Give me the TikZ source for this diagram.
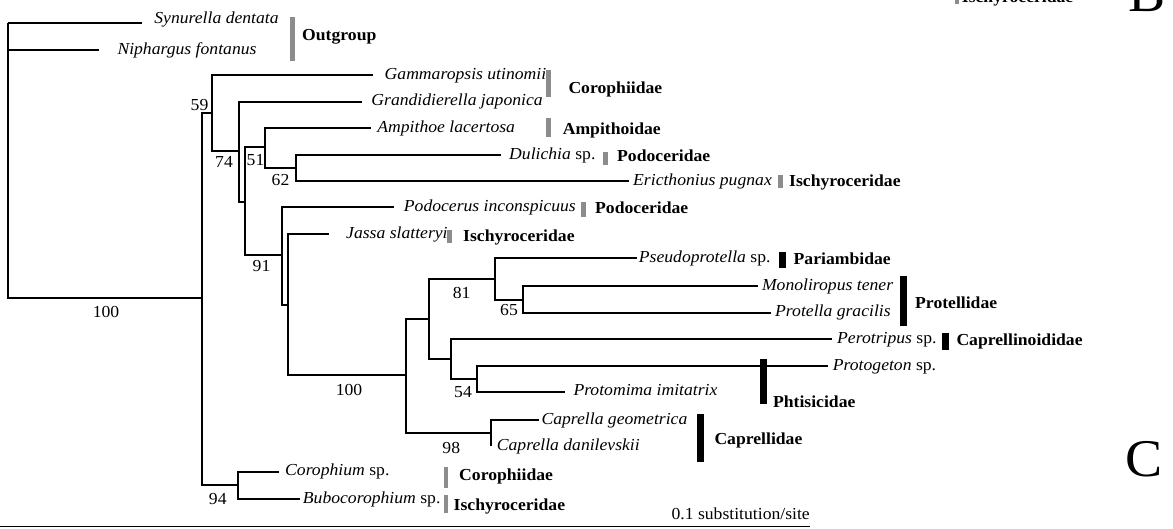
\documentclass[tikz,border=0pt]{standalone}
\usepackage{fontspec}
\setmainfont{Liberation Serif}[FakeStretch=1.05]
\usetikzlibrary{positioning}

\newcommand{\labelsize}{\fontsize{16.8}{19}\selectfont}

\tikzstyle{branch} = [
    line width = 2pt,
    line join = miter
]
\tikzstyle{taxon} = [
    anchor = west,
    inner ysep = 0pt,
    inner xsep = 4pt,
    font = \labelsize\itshape,
    text height = 12pt,
    text depth = 3.7pt
]
\tikzstyle{family} = [
    anchor = west,
    inner sep = 0pt,
    font = \labelsize\bfseries,
    text height = 12pt,
    text depth = 3.7pt
]
\tikzstyle{support} = [
    inner sep = 0pt,
    font = \labelsize
]
\tikzstyle{greybar} = [line width = 4.5pt, draw = black!45]
\tikzstyle{blackbar} = [line width = 7pt, draw = black]
\tikzstyle{panel} = [
    anchor = base west,
    inner sep = 0pt,
    font = \fontsize{53}{53}\selectfont
]

\begin{document}
\begin{tikzpicture}[x = 1pt, y = -1pt]
                \useasboundingbox (0,0) rectangle (1173,529);
                \clip (0,0) rectangle (1173,529);

                % inner nodes of the tree
                \coordinate (root) at (8.4,23.3);
                \coordinate (n100r) at (201.7,298.3);
                \coordinate (n59) at (212.3,113.3);
                \coordinate (n74) at (239,150.7);
                \coordinate (nA) at (245,201.7);
                \coordinate (n51) at (265,147.3);
                \coordinate (n62) at (295.7,168.3);
                \coordinate (n91) at (282,255);
                \coordinate (nB) at (288,305);
                \coordinate (n100c) at (406,375);
                \coordinate (nC) at (429.3,319.3);
                \coordinate (n81) at (495,279.3);
                \coordinate (n65) at (522.7,300);
                \coordinate (nD) at (450.7,359.3);
                \coordinate (n54) at (477.3,379.3);
                \coordinate (n98) at (491,432.7);
                \coordinate (n94) at (238.3,485);

                % taxa
                \node[taxon, inner xsep = 12.5pt, text depth = 12pt] (syn) at (141.7,23.3) {Synurella dentata};
                \node[taxon, inner xsep = 18pt] (nip) at (99.3,50) {Niphargus fontanus};
                \node[taxon, inner xsep = 11.5pt] (gam) at (373,75) {Gammaropsis utinomii};
                \node[taxon, inner xsep = 9.5pt] (gra) at (361.7,101.7) {Grandidierella japonica};
                \node[taxon, inner xsep = 6pt] (amp) at (371.2,128.3) {Ampithoe lacertosa};
                \node[taxon, inner xsep = 8pt] (dul) at (501,155) {Dulichia \textup{sp.}};
                \node[taxon] (eri) at (629,181) {Ericthonius pugnax};
                \node[taxon, inner xsep = 9.7pt] (pod) at (394,207) {Podocerus inconspicuus};
                \node[taxon, inner xsep = 17pt] (jas) at (329,234) {Jassa slatteryi};
                \node[taxon, inner xsep = 2pt] (pse) at (636.7,258.5) {Pseudoprotella \textup{sp.}};
                \node[taxon] (mon) at (757.8,286.3) {Monoliropus tener};
                \node[taxon] (prg) at (771,312.7) {Protella gracilis};
                \node[taxon, inner xsep = 5.5pt] (per) at (831.5,339.3) {Perotripus \textup{sp.}};
                \node[taxon, inner xsep = 5pt] (ptg) at (827.7,366.5) {Protogeton \textup{sp.}};
                \node[taxon, inner xsep = 8.3pt] (ptm) at (565,391.7) {Protomima imitatrix};
                \node[taxon, inner xsep = 2pt] (cge) at (539.3,420) {Caprella geometrica};
                \node[taxon, inner xsep = 5.7pt] (cda) at (491,446) {Caprella danilevskii};
                \node[taxon, inner xsep = 5.7pt] (cor) at (279.3,471.7) {Corophium \textup{sp.}};
                \node[taxon, inner xsep = 2.7pt] (bub) at (300,499.3) {Bubocorophium \textup{sp.}};

                % branches
                \draw[branch] (root) |- (syn.west);
                \draw[branch] (root) |- (nip.west);
                \draw[branch] (root) |- (n100r);
                \draw[branch] (n100r) |- (n59);
                \draw[branch] (n100r) |- (n94);
                \draw[branch] (n59) |- (gam.west);
                \draw[branch] (n59) |- (n74);
                \draw[branch] (n74) |- (gra.west);
                \draw[branch] (n74) |- (nA);
                \draw[branch] (nA) |- (n51);
                \draw[branch] (nA) |- (n91);
                \draw[branch] (n51) |- (amp.west);
                \draw[branch] (n51) |- (n62);
                \draw[branch] (n62) |- (dul.west);
                \draw[branch] (n62) |- (eri.west);
                \draw[branch] (n91) |- (pod.west);
                \draw[branch] (n91) |- (nB);
                \draw[branch] (nB) |- (jas.west);
                \draw[branch] (nB) |- (n100c);
                \draw[branch] (n100c) |- (nC);
                \draw[branch] (n100c) |- (n98);
                \draw[branch] (nC) |- (n81);
                \draw[branch] (nC) |- (nD);
                \draw[branch] (n81) |- (pse.west);
                \draw[branch] (n81) |- (n65);
                \draw[branch] (n65) |- (mon.west);
                \draw[branch] (n65) |- (prg.west);
                \draw[branch] (nD) |- (per.west);
                \draw[branch] (nD) |- (n54);
                \draw[branch] (n54) |- (ptg.west);
                \draw[branch] (n54) |- (ptm.west);
                \draw[branch] (n98) |- (cge.west);
                \draw[branch] (n98) |- (cda.west);
                \draw[branch] (n94) |- (cor.west);
                \draw[branch] (n94) |- (bub.west);

                % bootstrap values
                \node[support] (s100r) at (106,312) {100};
                \node[support] (s59) at (199.5,105) {59};
                \node[support] (s74) at (224,161.5) {74};
                \node[support] (s51) at (255.5,160.5) {51};
                \node[support] (s62) at (280.5,179.7) {62};
                \node[support] (s91) at (261.5,266) {91};
                \node[support] (s100c) at (349,389.5) {100};
                \node[support] (s81) at (461.7,293) {81};
                \node[support] (s65) at (509,310.5) {65};
                \node[support] (s54) at (463,392) {54};
                \node[support] (s98) at (451.3,447.7) {98};
                \node[support] (s94) at (217.8,499) {94};

                % families
                \draw[greybar] (292.7,16.7) -- (292.7,61);
                \node[family] (outg) at (302,36.7) {Outgroup};
                \draw[greybar] (548.4,70) -- (548.4,96.7);
                \node[family] (coro1) at (568.3,89) {Corophiidae};
                \draw[greybar] (548.4,118) -- (548.4,136.7);
                \node[family] (ampi) at (562.6,130) {Ampithoidae};
                \draw[greybar] (605.7,151.7) -- (605.7,165);
                \node[family] (podo1) at (617,157.7) {Podoceridae};
                \draw[greybar] (780.5,175) -- (780.5,188.3);
                \node[family] (isch1) at (789,182) {Ischyroceridae};
                \draw[greybar] (583.6,201.7) -- (583.6,216.7);
                \node[family] (podo2) at (595,209) {Podoceridae};
                \draw[greybar] (449.7,230) -- (449.7,243.3);
                \node[family] (isch2) at (463,237) {Ischyroceridae};
                \draw[blackbar] (782,251.7) -- (782,268.3);
                \node[family] (pari) at (793.5,260) {Pariambidae};
                \draw[blackbar] (903.4,276) -- (903.4,326.3);
                \node[family] (prot) at (915,304.5) {Protellidae};
                \draw[blackbar] (945,332.7) -- (945,350);
                \node[family] (capn) at (956.3,341.7) {Caprellinoididae};
                \draw[blackbar] (763.4,359.3) -- (763.4,404);
                \node[family] (phti) at (772.9,403) {Phtisicidae};
                \draw[blackbar] (700.3,414) -- (700.3,461.7);
                \node[family] (capr) at (714.3,440) {Caprellidae};
                \draw[greybar] (445.8,466.7) -- (445.8,488.3);
                \node[family] (coro2) at (459,476.7) {Corophiidae};
                \draw[greybar] (445.8,495) -- (445.8,513.3);
                \node[family] (isch3) at (453.5,506.7) {Ischyroceridae};
                \draw[greybar] (957,-10) -- (957,4);
                \node[family, anchor = base west] (isch0) at (961.7,3) {Ischyroceridae};

                % scale bar
                \coordinate (sb0) at (0,526.7);
                \coordinate (sb1) at (810,526.7);
                \draw[line width = 1.2pt] (sb0) -- (sb1);
                \node[support, anchor = base east] (scale) at (810,519) {0.1 substitution/site};

                % panel letters
                \node[panel] (panB) at (1128,11.7) {B};
                \node[panel] (panC) at (1125,476.5) {C};
            \end{tikzpicture}
\end{document}
